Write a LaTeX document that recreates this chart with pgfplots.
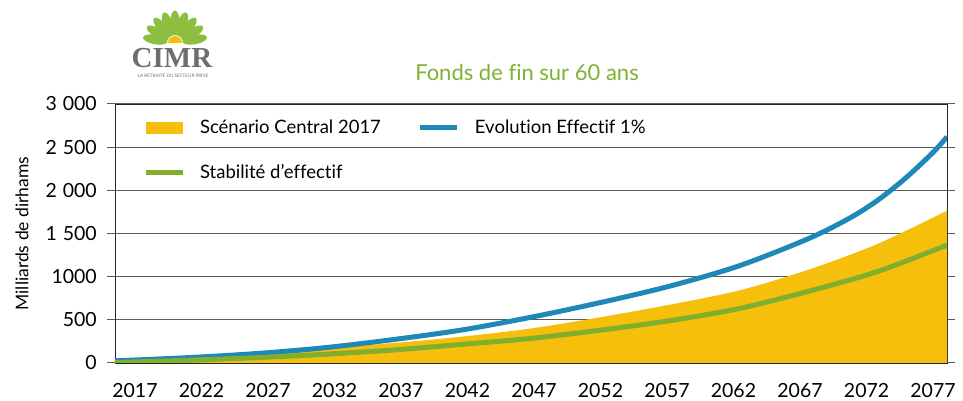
\documentclass[border=0pt]{standalone}
\usepackage{pgfplots}
\pgfplotsset{compat=1.18}
\usepackage{fontspec}
\setmainfont{Lato}[Ligatures={NoCommon,NoDiscretionary,NoContextual}]
\newfontfamily\logofont{Liberation Serif}
\definecolor{cyel}{HTML}{F6BF0C}
\definecolor{cblue}{HTML}{1E88B6}
\definecolor{cgreen}{HTML}{82AE2E}
\definecolor{ctitle}{HTML}{7DB234}
\definecolor{gridc}{HTML}{5A5A5A}
\definecolor{logogreen}{HTML}{8CBF3F}
\definecolor{logogray}{HTML}{6E6E6E}
\begin{document}
\begin{tikzpicture}[x=1pt,y=1pt]
\useasboundingbox (0,0) rectangle (963,401);
\begin{axis}[
  at={(115pt,38pt)}, anchor=south west,
  scale only axis, width=832pt, height=259pt,
  xmin=2017, xmax=2077, ymin=0, ymax=3000,
  axis line style={draw=black!85, line width=0.8pt},
  /pgf/number format/assume math mode=true,
  ytick={0,500,1000,1500,2000,2500,3000},
  yticklabels={0,500,1000,1\hspace{0.3em}500,2\hspace{0.3em}000,2\hspace{0.3em}500,3\hspace{0.3em}000},
  ymajorgrids, grid style={draw=gridc, line width=1pt},
  tick align=outside, major tick length=8pt,
  ytick style={draw=gridc, line width=1pt},
  xtick={2018.44,2023.24,2028.03,2032.83,2037.62,2042.42,2047.22,2052.01,2056.81,2061.60,2066.40,2071.20,2075.99},
  xticklabels={2017,2022,2027,2032,2037,2042,2047,2052,2057,2062,2067,2072,2077},
  xtick style={draw=none},
  xticklabel style={font=\fontsize{19.5}{22}\selectfont, inner sep=0pt, anchor=north, yshift=-12pt},
  yticklabel style={font=\fontsize{19.5}{22}\selectfont, inner sep=0pt, anchor=east, xshift=-10pt},
  ylabel={Milliards de dirhams},
  ylabel style={font=\fontsize{17.5}{20}\selectfont, at={(axis description cs:-0.1118,0.5)}, anchor=center},
  legend columns=2,
  legend cell align=left,
  legend style={at={(axis description cs:0.0337,0.938)}, anchor=north west,
    draw=none, fill=none, inner sep=0pt, outer sep=0pt,
    font=\fontsize{18.5}{21}\selectfont,
    nodes={inner sep=0pt},
    row sep=29pt,
    /tikz/every odd column/.append style={column sep=15pt},
    /tikz/every even column/.append style={column sep=37pt}},
]
\addplot[fill=cyel, draw=none, smooth,
  legend image code/.code={\fill[cyel] (0pt,-6pt) rectangle (37pt,6pt);}]
  coordinates {(2017,40) (2022,75) (2027,120) (2032,170) (2037,230) (2042,305) (2047,400) (2052,530) (2057,675) (2062,840) (2067,1080) (2072,1380) (2077,1764)} \closedcycle;
\addlegendentry{Scénario Central 2017}
\addplot[cblue, line width=5pt, smooth,
  legend image code/.code={\draw[cblue,line width=5pt] (0pt,0pt)--(37pt,0pt);}]
  coordinates {(2017,25) (2022,60) (2027,107) (2032,175) (2037,270) (2042,382) (2047,530) (2052,700) (2057,890) (2062,1125) (2067,1440) (2070,1680) (2072,1885) (2074,2140) (2076,2440) (2077,2620)};
\addlegendentry{Evolution Effectif 1\%}
\addplot[cgreen, line width=5pt, smooth,
  legend image code/.code={\draw[cgreen,line width=5pt] (0pt,0pt)--(37pt,0pt);}]
  coordinates {(2017,5) (2022,30) (2027,60) (2032,100) (2037,150) (2042,215) (2047,285) (2052,380) (2057,490) (2062,630) (2067,830) (2072,1060) (2077,1366)};
\addlegendentry{Stabilité d’effectif}
\end{axis}
% title
\node[text=ctitle, font=\fontsize{22}{25}\selectfont] at (527,329) {Fonds de fin sur 60 ans};
% logo
\foreach \a in {10,30,...,170} {
  \fill[logogreen, rotate around={\a:(175,358)}] (195,358) ellipse [x radius=12.5, y radius=4.8];
}
\fill[cyel] (168,358) arc[start angle=180, end angle=0, radius=7] -- cycle;
\node[text=logogray, font=\logofont\bfseries\fontsize{29}{30}\selectfont, inner sep=0pt] at (172,343) {CIMR};
\node[text=logogray, font=\fontsize{4.6}{5}\selectfont, inner sep=0pt] at (173,325) {LA RETRAITE DU SECTEUR PRIVE};
\end{tikzpicture}
\end{document}
